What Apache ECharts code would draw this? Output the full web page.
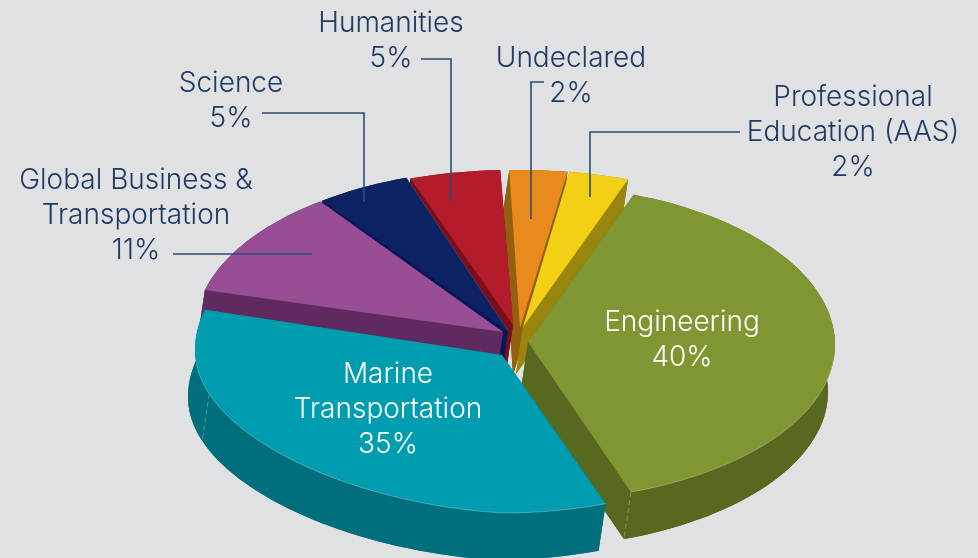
<!DOCTYPE html>
<html><head><meta charset="utf-8">
<style>html,body{margin:0;padding:0;background:#dfe1e3}#c{width:978px;height:558px}</style>
<script src="https://cdn.jsdelivr.net/npm/echarts@6/dist/echarts.min.js"></script></head>
<body><div id="c"></div>
<script>
// Data, clockwise from the top of Engineering
const categories = ['Engineering','Marine\nTransportation','Global Business &\nTransportation','Science','Humanities','Undeclared','Professional\nEducation (AAS)'];
const printedPercent = [40,35,11,5,5,2,2];           // numbers printed on the chart
const drawnShare = [39,34.4,10.8,4.9,4.7,3,3.1];     // wedge sizes as measured in the picture
const topColors = ['#7f9732','#009db0','#984e94','#0c2263','#b51c2b','#e98b1c','#f3d016'];
const sideColors = ['#57691f','#006f7d','#602a60','#07175a','#7a0f1c','#92600f','#9a860e'];

// Layout of the exploded 3D view
const START = 70, EX = -7, EY = 47;
const centers = [[529,345],[503,350],[505,330],[507,330],[511,328],[520,328],[522,328]];
const apexes  = [[528,342],[502,355],[503,332],[508,331],[513,325],[520,328],[523,327]];
// horizontal radius, upper vertical radius, lower vertical radius
const radii   = [[306,160,156],[308,161,163],[310,160,160],[310,161,161],[310,158,158],[310,158,158],[310,158,158]];
const perspectiveFlatten = [0,9,0,0,0,0,0];
const paint   = [5,6,4,3,2,1,2];
const labelPos = [[682,340],[388,410],[136,216],[231,101],[391,41],[571,76],[853,133]];
const labelColor = ['#fff','#fff','#1f3a63','#1f3a63','#1f3a63','#1f3a63','#1f3a63'];
const leaders = [null,null,
  [[173,254],[312,254]],
  [[262,113],[364,113],[364,202]],
  [[421,59],[451,59],[451,202]],
  [[544,82],[531,82],[531,219]],
  [[740,132],[590,132],[590,197]]];
const total = drawnShare.reduce((a,b)=>a+b,0);

function renderItem(params, api){
  const i = params.dataIndex;
  let before = 0;
  for(let k=0;k<i;k++) before += drawnShare[k];
  const a0 = START - before/total*360, a1 = a0 - api.value(0)/total*360;
  const [cx,cy] = centers[i], [rx,ryUp,ryLow] = radii[i], ap = apexes[i];
  const arc = [];
  const n = Math.max(8, Math.ceil((a0-a1)/2));
  for(let k=0;k<=n;k++){
    const t = (a0+(a1-a0)*k/n)*Math.PI/180, s = Math.sin(t), c = Math.cos(t);
    let y = s>=0 ? cy-ryUp*s : cy-ryLow*s;
    if(s<0 && c<0) y -= perspectiveFlatten[i]*Math.abs(Math.sin(2*t));
    arc.push([cx+rx*c, y]);
  }
  const down = p => [p[0]+EX,p[1]+EY];
  const low = arc.map(down), z = paint[i]*10;
  const side = pts => ({type:'polygon',z2:z,shape:{points:pts},style:{fill:sideColors[i]},silent:true});
  const kids = [
    side([down(ap)].concat(low)),
    side([ap,arc[0],low[0],down(ap)]),
    side([ap,arc[n],low[n],down(ap)]),
    side(arc.concat(low.slice().reverse())),
    {type:'polygon',z2:z+1,shape:{points:[ap].concat(arc)},style:{fill:topColors[i]}}
  ];
  const rim = {fill:'none',stroke:'rgba(255,255,255,0.35)',lineWidth:0.8};
  if(i<2){
    kids.push({type:'polyline',z2:z+2,shape:{points:arc.filter(p=>p[1]>cy+10)},style:rim});
  }
  if(i===0){
    kids.push({type:'polyline',z2:z+2,shape:{points:[arc[n],low[n]]},style:Object.assign({lineDash:[5,3]},rim)});
  }
  if(i===1){
    const m = Math.round(n*0.746);
    kids.push({type:'polyline',z2:z+2,shape:{points:[arc[m],low[m]]},style:Object.assign({lineDash:[5,3]},rim)});
  }
  if(i===3){
    kids.push({type:'polyline',z2:z+2,shape:{points:[ap,arc[n]]},style:{fill:'none',stroke:'rgba(255,255,255,0.2)',lineWidth:0.7}});
  }
  if(leaders[i]){
    kids.push({type:'polyline',z2:100,shape:{points:leaders[i]},style:{fill:'none',stroke:'#2c4a74',lineWidth:1.6}});
  }
  kids.push({type:'text',z2:101,x:labelPos[i][0],y:labelPos[i][1],style:{
    text:categories[i]+'\n'+printedPercent[i]+'%',
    fill:labelColor[i],font:'300 28px Inter',lineHeight:35,align:'center',verticalAlign:'middle'}});
  return {type:'group',children:kids};
}
const chart = echarts.init(document.getElementById('c'),null,{renderer:'canvas'});
chart.setOption({
  backgroundColor:'#dfe1e3',animation:false,
  series:[{type:'custom',coordinateSystem:'none',renderItem,
    data:categories.map((c,i)=>({name:c,value:[drawnShare[i]]}))}]
});
</script></body></html>
